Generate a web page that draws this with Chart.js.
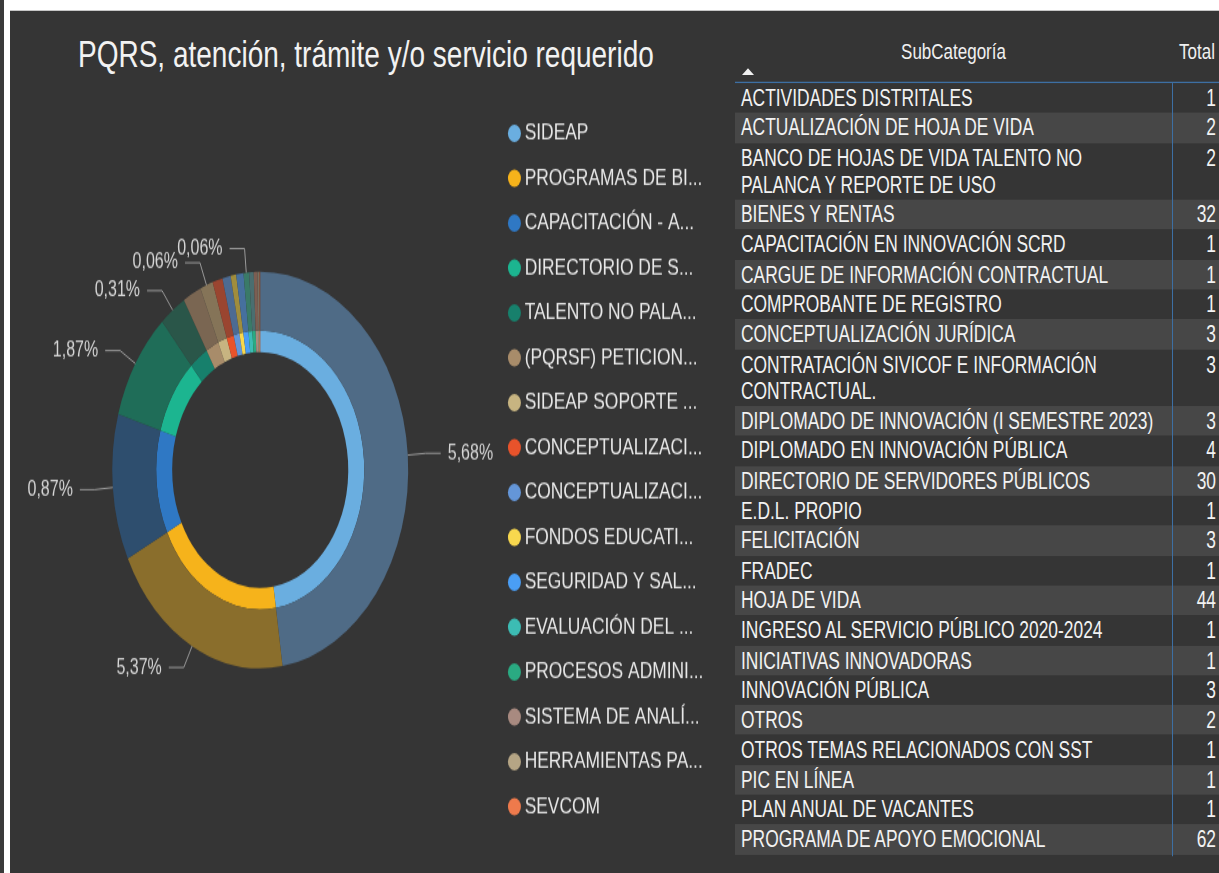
<!DOCTYPE html>
<html lang="es">
<head>
<meta charset="utf-8">
<title>PQRS, atención, trámite y/o servicio requerido</title>
<script src="https://cdn.jsdelivr.net/npm/chart.js@4.4.0/dist/chart.umd.min.js"></script>
<style>
  html, body { margin: 0; padding: 0; background: #fff; overflow: hidden; }
  #wrap { position: relative; width: 1219px; height: 873px; overflow: hidden; }
  /* the source screenshot is stretched vertically, so the whole board is drawn flat and scaled */
  #stage { position: absolute; left: 0; top: 0; width: 1219px; height: 651.5px; overflow: hidden; background: #fff;
           transform: scaleY(1.34); transform-origin: 0 0; font-family: 'Liberation Sans', Arial, sans-serif; }
  #edge { position: absolute; left: 0; top: 0; width: 4px; height: 100%; background: #3a3a3a; }
  #panel { position: absolute; left: 10px; top: 7.5px; right: 0; bottom: 0; background: #353535; }
  #title { position: absolute; left: 78px; top: 27px; font-size: 28px; line-height: 28px; color: #f2f2f2; white-space: nowrap; }
  #donut { position: absolute; left: 11px; top: 7.5px; }
  .th { position: absolute; top: 28.8px; line-height: 20px; font-size: 17px; color: #f0f0f0; white-space: nowrap; }
  #sortArrow { position: absolute; left: 742px; top: 50.5px; width: 0; height: 0;
               border-left: 6px solid transparent; border-right: 6px solid transparent; border-bottom: 5.5px solid #f0f0f0; }
  #headLine { position: absolute; left: 735px; top: 60.5px; width: 490px; height: 1.5px; background: #3d6fa3; }
  #colLine { position: absolute; left: 1171.5px; top: 62px; width: 1.5px; height: 577px; background: #3d6fa3; }
  #rows { position: absolute; left: 735px; top: 62px; width: 490px; }
  .row { display: flex; font-size: 17.4px; line-height: 20.1px; color: #f2f2f2; }
  .row.alt { background: #474747; }
  .c1 { width: 437px; box-sizing: border-box; padding: 1.11px 6px; white-space: pre; }
  .c2 { width: 53px; box-sizing: border-box; padding: 1.11px 9px 1.11px 0; text-align: right; }
</style>
</head>
<body>
<div id="wrap">
<div id="stage">
  <div id="edge"></div>
  <div id="panel"></div>
  <div id="title">PQRS, atención, trámite y/o servicio requerido</div>
  <canvas id="donut" width="722" height="644"></canvas>
  <div class="th" style="left:735px;width:437px;text-align:center">SubCategoría</div>
  <div class="th" style="left:1172px;width:43px;text-align:right">Total</div>
  <div id="sortArrow"></div>
  <div id="headLine"></div>
  <div id="rows"></div>
  <div id="colLine"></div>
</div>
</div>
<script>
// ── DATA ────────────────────────────────────────────────────────────────────────

const categories = [
  'SIDEAP', 'PROGRAMAS DE BI...', 'CAPACITACIÓN - A...', 'DIRECTORIO DE S...',
  'TALENTO NO PALA...', '(PQRSF) PETICION...', 'SIDEAP SOPORTE ...', 'CONCEPTUALIZACI...',
  'CONCEPTUALIZACI...', 'FONDOS EDUCATI...', 'SEGURIDAD Y SAL...', 'EVALUACIÓN DEL ...',
  'PROCESOS ADMINI...', 'SISTEMA DE ANALÍ...', 'HERRAMIENTAS PA...', 'SEVCOM'
];
const categoryCounts = [475, 200, 119, 89, 29, 20, 14, 11, 9, 6, 8, 6, 5, 4, 2, 1];
const pctLabels = ['5,68%', '5,37%', '0,87%', '1,87%', '0,31%', '', '0,06%', '', '', '', '', '0,06%', '', '', '', ''];

const innerColors = ['#6aaee0', '#f6b31b', '#2f78c4', '#1cb590', '#17806c', '#a88c6a', '#c7b481', '#e8532b',
                     '#6496d8', '#f8d84e', '#4a9ef5', '#3cbcb4', '#2aaa82', '#a88a80', '#b5a585', '#ee7a4c'];
const outerColors = ['#4f6b86', '#8a6e2c', '#2e4e6e', '#1f6d58', '#2a5649', '#7a6652', '#857458', '#9a4530',
                     '#4d6b92', '#a08d3d', '#46709e', '#3a7a68', '#4a6e70', '#7c5e52', '#7a7060', '#9a5a40'];

const subcats = [
  'ACTIVIDADES DISTRITALES', 'ACTUALIZACIÓN DE HOJA DE VIDA',
  'BANCO DE HOJAS DE VIDA TALENTO NO\nPALANCA Y REPORTE DE USO', 'BIENES Y RENTAS',
  'CAPACITACIÓN EN INNOVACIÓN SCRD', 'CARGUE DE INFORMACIÓN CONTRACTUAL', 'COMPROBANTE DE REGISTRO',
  'CONCEPTUALIZACIÓN JURÍDICA', 'CONTRATACIÓN SIVICOF E INFORMACIÓN\nCONTRACTUAL.',
  'DIPLOMADO DE INNOVACIÓN (I SEMESTRE 2023)', 'DIPLOMADO EN INNOVACIÓN PÚBLICA',
  'DIRECTORIO DE SERVIDORES PÚBLICOS', 'E.D.L. PROPIO', 'FELICITACIÓN', 'FRADEC', 'HOJA DE VIDA',
  'INGRESO AL SERVICIO PÚBLICO 2020-2024', 'INICIATIVAS INNOVADORAS', 'INNOVACIÓN PÚBLICA', 'OTROS',
  'OTROS TEMAS RELACIONADOS CON SST', 'PIC EN LÍNEA', 'PLAN ANUAL DE VACANTES', 'PROGRAMA DE APOYO EMOCIONAL'
];
const totals = [1, 2, 2, 32, 1, 1, 1, 3, 3, 3, 4, 30, 1, 3, 1, 44, 1, 1, 3, 2, 1, 1, 1, 62];

// ── TABLE ───────────────────────────────────────────────────────────────────────

document.getElementById('rows').innerHTML = subcats.map((s, i) =>
  `<div class="row${i % 2 ? ' alt' : ''}"><div class="c1">${s}</div><div class="c2">${totals[i]}</div></div>`
).join('');

// ── DONUT ───────────────────────────────────────────────────────────────────────

const FONT = "'Liberation Sans', Arial, sans-serif";

// percentage labels with elbow leader lines, hung off the outer ring
const leaderLabels = {
  id: 'leaderLabels',
  afterDatasetsDraw(chart) {
    const ctx = chart.ctx;
    const meta = chart.getDatasetMeta(0);
    ctx.save();
    ctx.font = `16px ${FONT}`;
    ctx.textBaseline = 'middle';
    ctx.strokeStyle = '#9a9a9a';
    ctx.fillStyle = '#d6d6d6';
    ctx.lineWidth = 1;
    meta.data.forEach((arc, i) => {
      const txt = pctLabels[i];
      if (!txt) return;
      const a = (arc.startAngle + arc.endAngle) / 2;
      const r = arc.outerRadius;
      const x0 = arc.x + Math.cos(a) * r, y0 = arc.y + Math.sin(a) * r;
      const x1 = arc.x + Math.cos(a) * (r + 18), y1 = arc.y + Math.sin(a) * (r + 18);
      const dir = Math.cos(a) >= 0 ? 1 : -1;
      const x2 = x1 + dir * 15;
      ctx.beginPath();
      ctx.moveTo(x0, y0);
      ctx.lineTo(x1, y1);
      ctx.lineTo(x2, y1);
      ctx.stroke();
      ctx.textAlign = dir > 0 ? 'left' : 'right';
      ctx.fillText(txt, x2 + dir * 7, y1);
    });
    ctx.restore();
  }
};

new Chart(document.getElementById('donut'), {
  type: 'doughnut',
  data: {
    labels: categories,
    datasets: [
      { data: categoryCounts, backgroundColor: outerColors, borderWidth: 0, weight: 2.75 },
      { data: categoryCounts, backgroundColor: innerColors, borderWidth: 0, weight: 1 }
    ]
  },
  options: {
    responsive: false,
    animation: false,
    events: [],
    radius: 148,
    cutout: '59.5%',
    layout: { padding: { left: 12.6, right: 19.6, top: 41.5, bottom: 0 } },
    plugins: {
      tooltip: { enabled: false },
      legend: {
        position: 'right',
        align: 'center',
        labels: {
          usePointStyle: true,
          pointStyle: 'circle',
          boxWidth: 3,
          boxHeight: 9.2,
          padding: 16.1,
          color: '#e8e8e8',
          font: { family: FONT, size: 17.4 },
          generateLabels: chart => chart.data.labels.map((text, i) => ({
            text,
            fillStyle: innerColors[i],
            strokeStyle: innerColors[i],
            lineWidth: 0,
            pointStyle: 'circle',
            fontColor: '#e8e8e8',
            hidden: false,
            index: i
          }))
        }
      }
    }
  },
  plugins: [leaderLabels]
});
</script>
</body>
</html>
